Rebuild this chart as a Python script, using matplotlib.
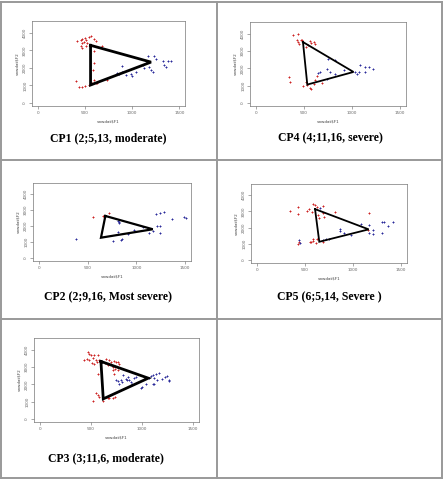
import matplotlib
matplotlib.use("Agg")
import matplotlib.pyplot as plt
from matplotlib.lines import Line2D

W, H = 446, 482

# ---------------- data ----------------
titles = ["CP1 (2;5,13, moderate)", "CP4 (4;11,16, severe)",
          "CP2 (2;9,16, Most severe)", "CP5 (6;5,14, Severe )",
          "CP3 (3;11,6, moderate)"]

x_ticks = [0, 500, 1000, 1500]
y_ticks = [0, 1000, 2000, 3000, 4000]
x_label = "vowdat$F1"
y_label = "vowdat$F2"

# CP1
cp1_tri_x = [560, 560, 1200]
cp1_tri_y = [3290, 1020, 2330]
cp1_red_x = [418, 454, 472, 500, 514, 543, 560, 596, 613, 465, 489, 525, 454, 472, 507, 596, 677,
             408, 436, 465, 500, 543, 578, 596, 613, 631, 738, 596, 585]
cp1_red_y = [3519, 3615, 3654, 3712, 3577, 3769, 3846, 3654, 3519, 3423, 3462, 3423, 3269, 3135, 3231, 2942, 3231,
             1250, 885, 885, 962, 1019, 1115, 1308, 1115, 1154, 1308, 2269, 1885]
cp1_blue_x = [1163, 1234, 1252, 1110, 1181, 1199, 1216, 1323, 1340, 1376, 1411, 1358, 897, 933, 862, 844,
              986, 1004, 1039, 1128, 897]
cp1_blue_y = [2654, 2692, 2500, 2173, 2077, 1885, 1788, 2365, 2173, 2365, 2404, 2038, 2115, 1596, 1654, 1692,
              1654, 1538, 1788, 1981, 1788]

# CP4
cp4_tri_x = [490, 535, 1015]
cp4_tri_y = [3520, 1060, 1790]
cp4_red_x = [391, 436, 433, 468, 481, 443, 454, 495, 523, 565, 572, 606, 617, 547, 350, 357, 488, 530, 558,
             575, 606, 617, 634, 686, 523]
cp4_red_y = [3942, 4000, 3654, 3654, 3654, 3519, 3423, 3519, 3231, 3577, 3462, 3538, 3423, 3327, 1500, 1212,
             962, 1019, 865, 827, 1115, 1308, 1538, 1154, 1212]
cp4_blue_x = [755, 824, 738, 772, 911, 824, 651, 662, 1084, 1136, 1077, 1032, 1050, 1171, 1216, 1136, 738]
cp4_blue_y = [2558, 2462, 1981, 1788, 1885, 1654, 1731, 1788, 2173, 2077, 1788, 1788, 1654, 2077, 1981, 1788, 1404]

# CP2
cp2_tri_x = [682, 637, 1168]
cp2_tri_y = [2626, 1273, 1798]
cp2_red_x = [558, 723, 654]
cp2_red_y = [2566, 2828, 2626]
cp2_blue_x = [380, 808, 825, 818, 808, 764, 853, 842, 911, 1072, 1116, 1127, 1168, 1202, 1243, 1288, 1209,
              1243, 1243, 1366, 1493, 1510, 979]
cp2_blue_y = [1212, 2323, 2222, 2162, 1616, 1071, 1192, 1152, 1515, 1919, 1818, 1556, 1717, 2727, 2828, 2889,
              2020, 2020, 1556, 2424, 2566, 2525, 1778]

# CP5
cp5_tri_x = [605, 649, 1162]
cp5_tri_y = [3136, 1126, 1889]
cp5_red_x = [342, 424, 526, 547, 571, 588, 605, 629, 683, 639, 690, 700, 424, 434, 424, 553, 560, 588, 615,
             622, 690, 649, 810, 1162, 1151, 581]
cp5_red_y = [3035, 3276, 3035, 3136, 2935, 3437, 3377, 3236, 3337, 2774, 2894, 2633, 2834, 1126, 965, 1126,
             1085, 1166, 1045, 1286, 1085, 2573, 2935, 2894, 1829, 1286]
cp5_blue_x = [656, 690, 724, 752, 861, 861, 902, 980, 1083, 1162, 1168, 1203, 1203, 1298, 1322, 1305, 1367,
              1418, 434, 444]
cp5_blue_y = [3176, 1226, 1286, 1286, 1930, 1789, 1688, 1568, 2231, 2131, 1688, 1829, 1628, 2372, 2332, 1688,
              2090, 2372, 1226, 1025]

# CP3
cp3_tri_x = [597, 620, 1062]
cp3_tri_y = [3324, 1159, 2357]
cp3_red_x = [468, 477, 500, 532, 565, 435, 458, 484, 516, 549, 510, 532, 555, 581, 646, 679, 695, 727, 744,
             769, 776, 640, 662, 711, 737, 760, 727, 711, 565, 549, 565, 581, 516, 646, 662, 679, 711, 737, 614]
cp3_red_y = [3865, 3768, 3710, 3671, 3710, 3420, 3478, 3420, 3536, 3420, 3227, 3188, 3285, 3382, 3478, 3420,
             3285, 3343, 3285, 3285, 3188, 3227, 3092, 2995, 2899, 2802, 2609, 2802, 2609, 1488, 1411, 1256,
             1063, 1295, 1217, 1217, 1217, 1295, 1063]
cp3_blue_x = [744, 760, 792, 808, 841, 857, 873, 890, 906, 867, 815, 776, 922, 945, 987, 1003, 1036, 1068,
              1084, 1107, 1117, 1133, 1172, 1107, 1117, 1198, 1231, 1247, 1263, 1269, 1149]
cp3_blue_y = [2261, 2164, 2222, 2126, 2319, 2261, 2222, 2126, 2029, 2415, 2512, 2029, 2377, 2415, 1797, 1836,
              2029, 2377, 2454, 2512, 2377, 2570, 2647, 2029, 1990, 2319, 2415, 2454, 2164, 2261, 2261]

panels = [
    (cp1_tri_x, cp1_tri_y, cp1_red_x, cp1_red_y, cp1_blue_x, cp1_blue_y),
    (cp4_tri_x, cp4_tri_y, cp4_red_x, cp4_red_y, cp4_blue_x, cp4_blue_y),
    (cp2_tri_x, cp2_tri_y, cp2_red_x, cp2_red_y, cp2_blue_x, cp2_blue_y),
    (cp5_tri_x, cp5_tri_y, cp5_red_x, cp5_red_y, cp5_blue_x, cp5_blue_y),
    (cp3_tri_x, cp3_tri_y, cp3_red_x, cp3_red_y, cp3_blue_x, cp3_blue_y),
]

# ---------------- layout (pixels, top-left origin) ----------------
boxes = [(32, 21, 185, 106), (250, 22, 406, 106), (33, 183, 191, 261),
         (251, 184, 407, 263), (34, 338, 199, 422)]
caption_pos = [(108, 138), (330, 138), (108, 297), (329, 297), (106, 458)]
tri_lw = [2.0, 1.3, 1.6, 1.3, 2.0]

fig = plt.figure(figsize=(W / 100, H / 100), dpi=100)
fig.patch.set_facecolor("white")


def fx(px):
    return px / W


def fy(py):
    return 1 - py / H


# table lines
grid_col = "#999999"
for y in [2, 160, 319, 478]:
    fig.add_artist(Line2D([fx(0), fx(442)], [fy(y), fy(y)], color=grid_col, lw=1.4))
for x in [0.7, 217, 442]:
    fig.add_artist(Line2D([fx(x), fx(x)], [fy(2), fy(478)], color=grid_col, lw=1.4))

for i, (tx, ty, rx, ry, bx, by) in enumerate(panels):
    x0, y0, x1, y1 = boxes[i]
    ax = fig.add_axes([fx(x0), fy(y1), (x1 - x0) / W, (y1 - y0) / H])
    ax.set_xlim(-60, 1560)
    ax.set_ylim(-180, 4680)
    ax.scatter(rx, ry, marker="+", s=3.5, color="#cc2222", linewidths=0.7)
    ax.scatter(bx, by, marker="+", s=3.5, color="#2a2a9a", linewidths=0.7)
    ax.plot(tx + tx[:1], ty + ty[:1], color="black", lw=tri_lw[i], solid_joinstyle="miter")
    ax.set_xticks(x_ticks)
    ax.set_yticks(y_ticks)
    ax.set_xticklabels([str(v) for v in x_ticks], fontsize=3, color="#444")
    ax.set_yticklabels([str(v) for v in y_ticks], fontsize=3, color="#444", rotation=90, va="center")
    ax.tick_params(length=2, width=0.4, pad=1.5, colors="#666")
    for s in ax.spines.values():
        s.set_linewidth(0.5)
        s.set_color("#777")
    ax.set_xlabel(x_label, fontsize=3, color="#444", labelpad=3)
    ax.set_ylabel(y_label, fontsize=3, color="#444", labelpad=3)
    cx, cy = caption_pos[i]
    fig.text(fx(cx), fy(cy), titles[i], ha="center", va="center",
             fontsize=8.5, fontweight="bold", family="Liberation Serif")

fig.savefig("out.png", dpi=100)
